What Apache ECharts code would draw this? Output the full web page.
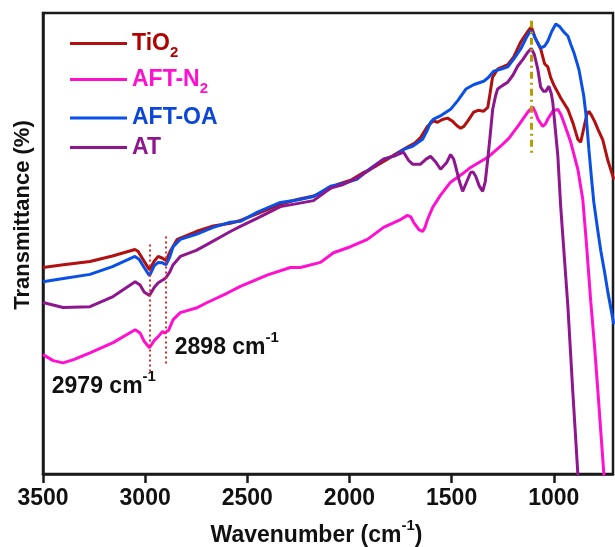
<!DOCTYPE html>
<html>
<head>
<meta charset="utf-8">
<script src="https://cdn.jsdelivr.net/npm/echarts@6/dist/echarts.min.js"></script>
<style>
html,body{margin:0;padding:0;background:#fff;}
#chart{width:615px;height:547px;}
</style>
</head>
<body>
<div id="chart"></div>
<script>
// ---- data: [wavenumber (cm-1), transmittance (a.u., 0-100 scale)] ----
const tio2 = [
[3500,44.8],[3400,45.4],[3270,46.1],[3160,47.3],[3050,48.7],[3035,48.3],[3010,46.5],[2979,44.3],[2955,46.2],[2936,47.2],[2915,46.8],[2898,46.3],[2875,48.5],[2843,50.9],[2750,52.6],[2667,53.8],[2583,54.4],[2534,55.0],[2450,56.5],[2338,58.5],[2250,59.6],[2176,60.3],[2100,61.8],[2059,62.8],[1990,63.8],[1931,65.4],[1870,66.8],[1814,68.3],[1760,69.8],[1716,70.9],[1680,71.8],[1652,73.0],[1618,75.4],[1590,76.6],[1569,76.3],[1545,76.9],[1520,77.2],[1495,76.5],[1475,75.6],[1456,75.0],[1440,75.4],[1422,76.5],[1392,78.5],[1370,78.9],[1343,78.7],[1323,79.5],[1312,82.5],[1300,86.0],[1275,87.8],[1225,88.8],[1196,90.5],[1162,93.7],[1127,96.0],[1110,97.0],[1090,94.5],[1064,92.2],[1045,89.0],[1029,88.3],[1015,86.0],[1000,84.4],[965,81.5],[931,79.1],[905,76.0],[882,72.6],[868,72.0],[853,75.0],[838,78.0],[828,78.7],[815,77.8],[800,76.5],[784,74.8],[760,72.5],[735,68.0],[706,63.9]
];
const aftN2 = [
[3500,25.9],[3450,24.6],[3402,24.1],[3350,24.8],[3270,26.3],[3157,28.5],[3049,31.3],[3025,30.6],[3005,28.8],[2979,27.4],[2955,29.0],[2936,29.8],[2915,30.9],[2905,30.6],[2898,30.2],[2885,31.2],[2863,33.5],[2828,35.0],[2750,36.0],[2696,37.2],[2600,39.2],[2534,40.7],[2400,43.2],[2289,44.8],[2240,44.8],[2142,45.9],[2078,48.0],[1995,49.3],[1912,50.9],[1833,53.5],[1750,55.2],[1716,56.1],[1700,55.8],[1686,54.6],[1660,53.0],[1642,52.6],[1630,53.5],[1618,55.2],[1593,57.8],[1554,60.5],[1505,63.3],[1450,65.0],[1407,66.5],[1323,68.7],[1260,71.1],[1220,72.8],[1176,75.4],[1127,78.5],[1103,79.6],[1090,78.5],[1078,77.0],[1054,75.4],[1040,76.0],[1029,77.0],[1005,78.7],[980,79.1],[965,78.0],[951,76.3],[917,72.0],[882,66.1],[858,59.6],[840,50.0],[819,37.5],[800,27.5],[784,18.0],[755,0.2],[745,-6]
];
const aftOA = [
[3500,41.7],[3400,42.4],[3270,43.3],[3160,45.0],[3050,47.2],[3030,46.6],[3005,44.8],[2979,43.0],[2955,45.2],[2936,45.9],[2915,45.8],[2898,45.4],[2880,47.0],[2863,49.3],[2828,50.9],[2750,52.0],[2667,53.5],[2583,54.6],[2534,54.8],[2450,56.8],[2338,58.9],[2250,59.5],[2176,60.2],[2093,62.4],[2030,63.0],[1961,64.0],[1900,66.2],[1833,68.3],[1780,69.0],[1735,70.4],[1691,71.1],[1642,72.6],[1620,74.5],[1603,76.3],[1588,77.0],[1550,77.8],[1505,79.1],[1470,81.0],[1430,83.5],[1390,84.5],[1343,85.2],[1320,86.0],[1294,87.4],[1260,87.8],[1225,88.3],[1196,90.0],[1162,92.2],[1130,95.0],[1113,96.1],[1100,95.5],[1088,94.3],[1064,92.4],[1045,92.8],[1029,93.9],[1010,96.0],[990,97.6],[970,97.0],[951,95.9],[931,95.0],[915,93.0],[902,91.5],[877,87.8],[853,82.0],[840,77.0],[828,70.4],[815,64.0],[804,59.0],[785,53.0],[770,48.5],[750,43.5],[735,39.4],[706,32.5]
];
const at = [
[3500,37.2],[3402,36.1],[3270,36.3],[3157,38.5],[3049,41.7],[3025,41.0],[3005,39.5],[2979,38.7],[2955,40.5],[2936,41.5],[2910,42.2],[2898,42.6],[2880,43.8],[2863,45.4],[2828,47.2],[2750,48.5],[2696,49.8],[2583,52.6],[2534,53.7],[2450,55.5],[2338,58.0],[2250,58.7],[2176,59.3],[2093,62.0],[2030,62.8],[1961,64.3],[1900,66.0],[1833,68.3],[1780,69.0],[1735,69.8],[1710,68.0],[1691,67.2],[1652,67.2],[1625,68.3],[1603,68.9],[1580,67.8],[1554,66.1],[1525,67.5],[1505,69.3],[1490,68.3],[1480,66.7],[1462,63.5],[1446,61.3],[1425,63.5],[1407,65.4],[1395,65.5],[1382,64.6],[1365,62.5],[1348,61.3],[1335,63.5],[1323,68.3],[1310,74.0],[1299,79.1],[1285,82.0],[1275,83.5],[1250,84.3],[1225,85.0],[1200,86.5],[1176,88.5],[1150,90.0],[1127,91.5],[1110,92.3],[1095,91.0],[1078,87.8],[1064,83.9],[1050,83.0],[1039,83.0],[1024,84.1],[1012,82.5],[1005,80.7],[995,76.0],[980,69.0],[966,58.0],[931,36.5],[907,18.0],[882,0.0],[870,-8]
];
const xTicks = [1000,1500,2000,2500,3000,3500];
const peakA = 2979, peakB = 2898, peakC = 1110;

const FONT = 'Liberation Sans, Arial, sans-serif';
const C_TIO2 = '#b21010', C_N2 = '#ff10d0', C_OA = '#0a50e6', C_AT = '#8e168e';
const T_TIO2 = '#b00000', T_N2 = '#ff10d0', T_OA = '#0a46d8', T_AT = '#8e168e';

function legendFor(name, top, color, fmt){
  return {
    data:[name], left:70, top:top, padding:0, icon:'rect', itemWidth:57, itemHeight:3,
    selectedMode:false,
    formatter: fmt,
    textStyle:{
      color:color, fontSize:23, fontWeight:'bold', fontFamily:FONT,
      rich:{
        a:{color:color, fontSize:23, fontWeight:'bold', fontFamily:FONT, verticalAlign:'middle'},
        s:{color:color, fontSize:15, fontWeight:'bold', fontFamily:FONT, padding:[18,0,0,0], verticalAlign:'middle'}
      }
    }
  };
}

const supRich = {
  a:{color:'#111', fontSize:23, fontWeight:'bold', fontFamily:FONT, verticalAlign:'middle'},
  p:{color:'#111', fontSize:15, fontWeight:'bold', fontFamily:FONT, padding:[0,0,20,0], verticalAlign:'middle'}
};

const chart = echarts.init(document.getElementById('chart'), null, {renderer:'canvas'});
chart.setOption({
  animation:false,
  backgroundColor:'#fff',
  grid:{left:43, right:2, top:13, bottom:73, show:true, borderColor:'#1a1a1a', borderWidth:2.5, outerBoundsMode:'none'},
  legend:[
    legendFor('TiO2', 32, T_TIO2, ()=> '{a|TiO}{s|2}'),
    legendFor('AFT-N2', 68, T_N2, ()=> '{a|AFT-N}{s|2}'),
    legendFor('AFT-OA', 106.5, T_OA, ()=> '{a|AFT-OA}'),
    legendFor('AT', 136, T_AT, ()=> '{a|AT}')
  ],
  xAxis:{
    type:'value', inverse:true, min:710, max:3500,
    name:'{a|Wavenumber (cm}{p|-1}{a|)}', nameLocation:'middle', nameGap:44,
    nameTextStyle:{padding:[0,23,0,0], rich:supRich},
    axisLine:{show:true, lineStyle:{color:'#1a1a1a', width:2.5}},
    axisTick:{show:true, length:9, lineStyle:{color:'#1a1a1a', width:2.5}, customValues:xTicks},
    axisLabel:{customValues:xTicks, formatter:(v)=>String(v), fontSize:23, fontWeight:'bold', fontFamily:FONT, color:'#111', margin:13},
    splitLine:{show:false}
  },
  yAxis:{
    type:'value', min:0, max:100,
    name:'Transmittance (%)', nameLocation:'middle', nameGap:9.5, nameRotate:90,
    nameTextStyle:{fontSize:22, fontWeight:'bold', fontFamily:FONT, color:'#111', padding:[0,0,0,57]},
    axisLine:{show:true, lineStyle:{color:'#1a1a1a', width:2.5}},
    axisTick:{show:false}, axisLabel:{show:false}, splitLine:{show:false}
  },
  series:[
    {name:'TiO2', type:'line', data:tio2, showSymbol:false, symbol:'none', color:C_TIO2, lineStyle:{width:3, color:C_TIO2},
     markLine:{silent:true, symbol:['none','none'], label:{show:false},
       data:[
         [{coord:[peakA,49.8], lineStyle:{color:'#e02828', width:2, type:[2,3]}},{coord:[peakA,22.0]}],
         [{coord:[peakB,51.5], lineStyle:{color:'#e02828', width:2, type:[2,3]}},{coord:[peakB,23.7]}],
         [{coord:[peakC,98.3], lineStyle:{color:'#b89c00', width:3, type:[7,4,2,4]}},{coord:[peakC,68.9]}]
       ]},
     markPoint:{silent:true, symbol:'circle', symbolSize:0,
       data:[
         {coord:[2855,27.4], label:{show:true, position:'right', distance:0, formatter:'{a|2898 cm}{p|-1}', rich:supRich}},
         {coord:[3457,19.0], label:{show:true, position:'right', distance:0, formatter:'{a|2979 cm}{p|-1}', rich:supRich}}
       ]}
    },
    {name:'AFT-N2', type:'line', data:aftN2, showSymbol:false, symbol:'none', color:C_N2, lineStyle:{width:3, color:C_N2}},
    {name:'AFT-OA', type:'line', data:aftOA, showSymbol:false, symbol:'none', color:C_OA, lineStyle:{width:3, color:C_OA}},
    {name:'AT', type:'line', data:at, showSymbol:false, symbol:'none', color:C_AT, lineStyle:{width:3, color:C_AT}}
  ]
});
</script>
</body>
</html>
